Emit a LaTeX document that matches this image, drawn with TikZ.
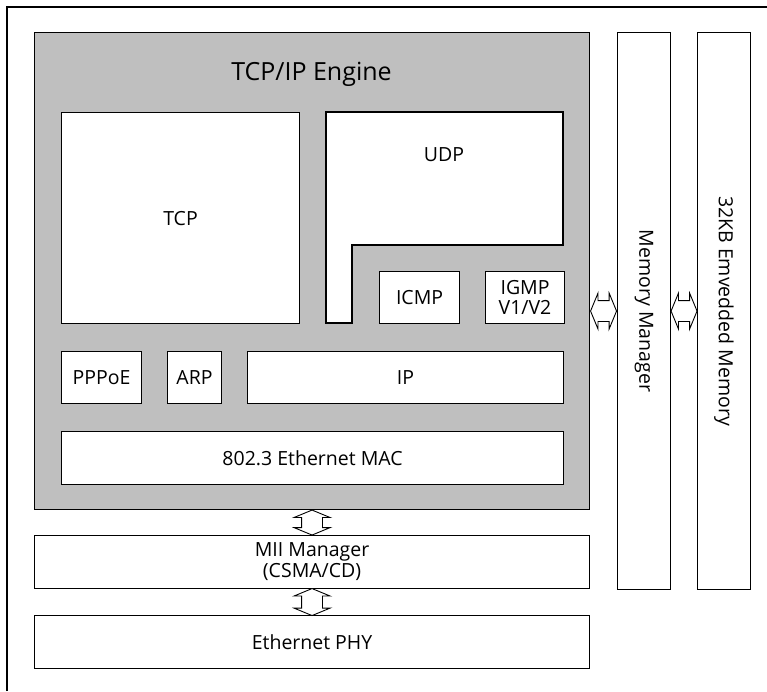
\documentclass[tikz,border=0pt]{standalone}
\usepackage{fontspec}
\setmainfont{Open Sans}
\usetikzlibrary{shapes.arrows,calc}

\tikzset{
  blk/.style={draw, fill=white, line width=1.1pt, inner sep=0pt, anchor=north west,
    align=center, font=\fontsize{19.5}{23}\selectfont},
  xfer/.style={double arrow, draw, fill=white, line width=0.9pt, inner xsep=0pt,
    inner ysep=10pt, double arrow head extend=7.5pt, double arrow tip angle=135}
}

\begin{document}
\begin{tikzpicture}[x=1pt, y=-1pt]

\useasboundingbox (0,0) rectangle (767,691);

% frame
\draw[line width=1.1pt] (7,691) -- (7,7) -- (767,7);

% engine
\node[blk, fill=black!25, minimum width=555pt, minimum height=477pt] (engine) at (34,32) {};
\node[font=\fontsize{25}{30}\selectfont] (title) at (311.5,74) {TCP/IP Engine};

\node[blk, minimum width=238pt, minimum height=211pt] (tcp) at (61,112) {TCP};

% UDP
\draw[line width=1.1pt, fill=white] (326,112) -- (563,112) -- (563,245) -- (352,245)
  -- (352,323) -- (326,323) -- cycle;
\node[font=\fontsize{19.5}{23}\selectfont] (udp) at (444,155) {UDP};

\node[blk, minimum width=80pt, minimum height=52pt] (icmp) at (379,271) {ICMP};
\node[blk, minimum width=79pt, minimum height=52pt] (igmp) at (485,271) {IGMP\\[-3pt]V1/V2};

\node[blk, minimum width=80pt, minimum height=52pt] (pppoe) at (61,351) {PPPoE};
\node[blk, minimum width=54pt, minimum height=52pt] (arp) at (167,351) {ARP};
\node[blk, minimum width=316pt, minimum height=52pt] (ip) at (247,351) {IP};

\node[blk, minimum width=502pt, minimum height=53pt] (mac) at (61,431) {802.3 Ethernet MAC};

% lower blocks
\node[blk, minimum width=555pt, minimum height=53pt] (mii) at (34,535) {MII Manager\\[-2pt](CSMA/CD)};
\node[blk, minimum width=555pt, minimum height=53pt] (phy) at (34,615) {Ethernet PHY};

% memory
\node[blk, minimum width=53pt, minimum height=557pt] (mem) at (617,32) {};
\node[rotate=-90, font=\fontsize{19.5}{23}\selectfont] (memtext) at (mem.center) {Memory Manager};
\node[blk, minimum width=53pt, minimum height=557pt] (ram) at (697,32) {};
\node[rotate=-90, font=\fontsize{19.5}{23}\selectfont] (ramtext) at (ram.center) {32KB Emvedded Memory};

% transfers
\node[xfer, rotate=90, minimum height=25pt] (a1) at ($(engine.south)!0.5!(mii.north)$) {};
\node[xfer, rotate=90, minimum height=27pt] (a2) at ($(mii.south)!0.5!(phy.north)$) {};
\node[xfer, minimum height=26pt] (a3) at ($(engine.east |- mem.center)!0.5!(mem.west)$) {};
\node[xfer, minimum height=26pt] (a4) at ($(mem.east)!0.5!(ram.west)$) {};

\end{tikzpicture}
\end{document}
